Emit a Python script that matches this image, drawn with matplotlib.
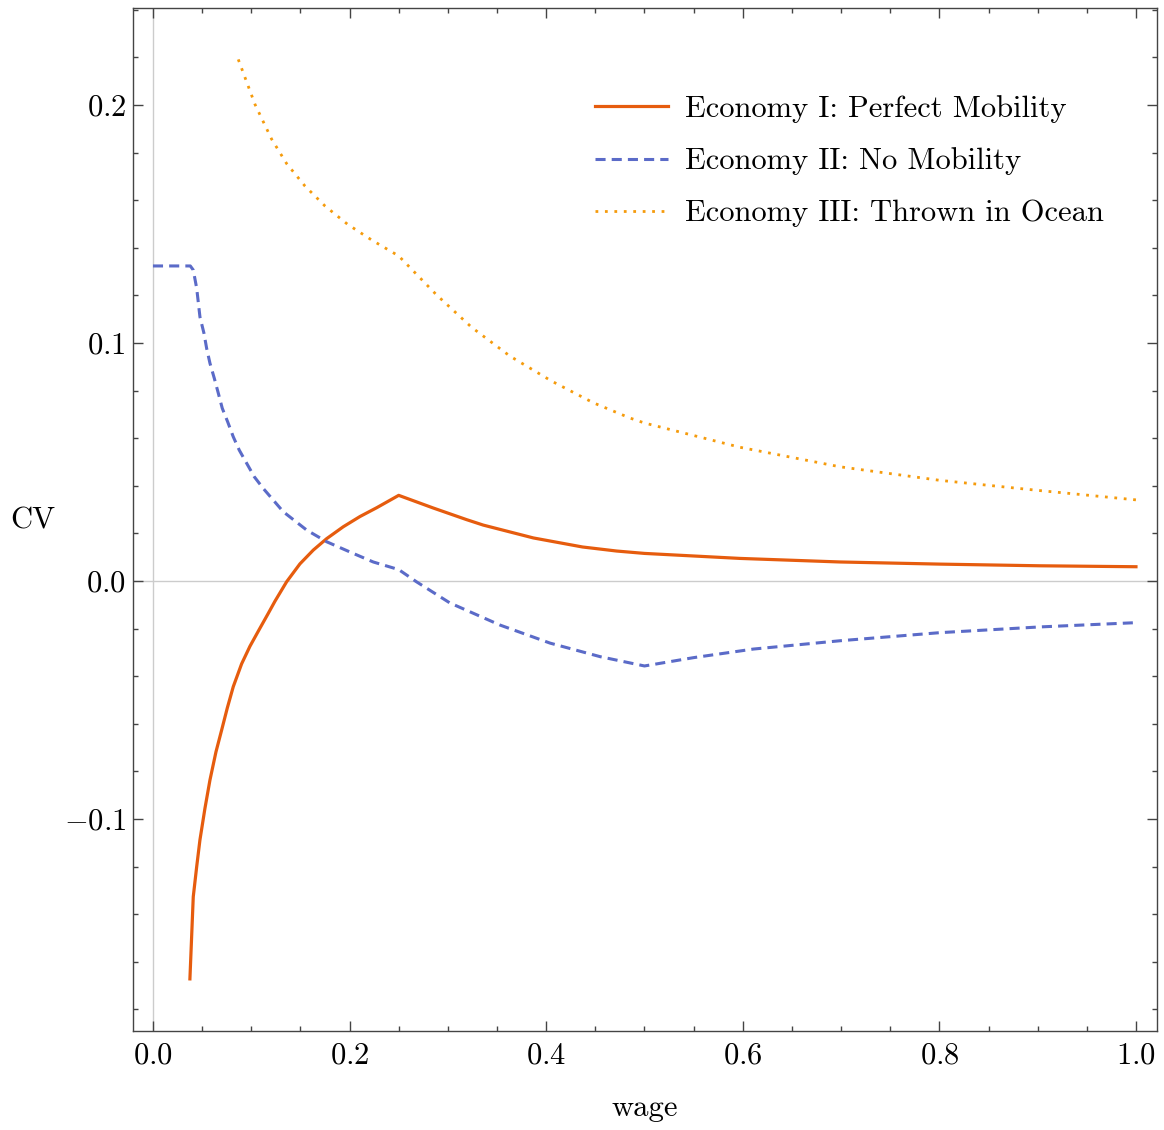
import numpy as np
import matplotlib
matplotlib.use('Agg')
import matplotlib.pyplot as plt
from matplotlib.ticker import MultipleLocator

plt.rcParams['font.family'] = 'cmr10'
plt.rcParams['mathtext.fontset'] = 'cm'
plt.rcParams['axes.formatter.use_mathtext'] = True
plt.rcParams['font.size'] = 22

# Economy I: Perfect Mobility
wage_perfect = [0.0376, 0.041, 0.0445, 0.0478, 0.0529, 0.058, 0.0641, 0.0699, 0.0756, 0.0817,
                0.0902, 0.0987, 0.1078, 0.1173, 0.1241,
                0.136, 0.1495, 0.1631, 0.1767, 0.1936, 0.2106, 0.2276, 0.25,
                0.285, 0.319, 0.336, 0.370, 0.387, 0.437, 0.4717, 0.5,
                0.597, 0.699, 0.8006, 0.902, 1.0]
cv_perfect = [-0.1672, -0.1327, -0.1200, -0.1088, -0.0955, -0.0836, -0.0718, -0.0626, -0.0534, -0.0444,
              -0.0348, -0.0274, -0.0206, -0.0136, -0.0085,
              -0.0003, 0.0072, 0.0130, 0.0178, 0.0228, 0.0271, 0.0308, 0.0360,
              0.0307, 0.0258, 0.0235, 0.0199, 0.0181, 0.0143, 0.0126, 0.0116,
              0.0095, 0.0080, 0.0071, 0.0064, 0.0060]

# Economy II: No Mobility
wage_none = [0.0, 0.038, 0.041, 0.0445, 0.0478, 0.0519, 0.0546, 0.058, 0.0624, 0.0665,
             0.0705, 0.076, 0.0817, 0.0878, 0.0953, 0.1031, 0.1122, 0.1326, 0.1564,
             0.1767, 0.2004, 0.2241, 0.25, 0.268, 0.302, 0.353, 0.404, 0.455, 0.5,
             0.55, 0.6107, 0.699, 0.8006, 0.902, 1.0]
cv_none = [0.1324, 0.1324, 0.1307, 0.1230, 0.1110, 0.1041, 0.0978, 0.0915, 0.0852, 0.0789,
           0.0726, 0.0669, 0.0606, 0.0550, 0.0495, 0.0438, 0.0389, 0.0291, 0.0214,
           0.0165, 0.0122, 0.0080, 0.0048, -0.0003, -0.0092, -0.0185, -0.0261, -0.0318, -0.0357,
           -0.0322, -0.0286, -0.0251, -0.0217, -0.0193, -0.0175]

# Economy III: Thrown in Ocean
wage_ocean = [0.0868, 0.1038, 0.1207, 0.136, 0.1546, 0.175, 0.198, 0.2225, 0.25,
              0.2886, 0.3242, 0.3632, 0.4056, 0.448, 0.4852, 0.5,
              0.5972, 0.6989, 0.8006, 0.9023, 1.0]
cv_ocean = [0.2192, 0.2003, 0.1857, 0.1754, 0.1660, 0.1576, 0.1499, 0.1433, 0.1366,
            0.1202, 0.1066, 0.0945, 0.0840, 0.0749, 0.0685, 0.0664,
            0.0562, 0.0480, 0.0423, 0.0380, 0.0341]

labels = ['Economy I: Perfect Mobility', 'Economy II: No Mobility', 'Economy III: Thrown in Ocean']

fig = plt.figure(figsize=(11.64, 11.30), dpi=100)
ax = fig.add_axes([133/1164, 1 - 1031/1130, 1024/1164, 1023/1130])

ax.axhline(0, color='#cccccc', lw=1, zorder=0)
ax.axvline(0, color='#cccccc', lw=1, zorder=0)

ax.plot(wage_perfect, cv_perfect, color='#E65C0E', lw=2.3, label=labels[0])
ax.plot(wage_none, cv_none, color='#5B6BC8', lw=2.2, ls=(0, (3.3, 2.0)), label=labels[1])
ax.plot(wage_ocean, cv_ocean, color='#F59B0C', lw=2.0, ls=(0, (1, 2.4)), label=labels[2])

ax.set_xlim(-0.0203, 1.0214)
ax.set_ylim(-0.1891, 0.2408)
ax.xaxis.set_major_locator(MultipleLocator(0.2))
ax.xaxis.set_minor_locator(MultipleLocator(0.05))
ax.yaxis.set_major_locator(MultipleLocator(0.1))
ax.yaxis.set_minor_locator(MultipleLocator(0.02))

for s in ax.spines.values():
    s.set_color('#444444')
    s.set_linewidth(1.0)
ax.tick_params(which='both', direction='in', top=True, right=True, color='#444444', width=1.0)
ax.tick_params(which='major', length=7)
ax.tick_params(which='minor', length=3.5)
ax.tick_params(axis='x', which='major', pad=8)
ax.tick_params(axis='y', which='major', pad=5)

ax.set_xlabel('wage', va='center')
ax.xaxis.set_label_coords(0.5, -0.0753)
ax.set_ylabel('CV', rotation=0, va='center', ha='center')
ax.yaxis.set_label_coords(-0.0977, 0.4985)

ax.legend(loc='upper left', bbox_to_anchor=(0.451, 0.915), frameon=False,
          borderpad=0, borderaxespad=0, handlelength=2.4, handletextpad=0.55,
          labelspacing=0.8)

fig.savefig('out.png', dpi=100)
